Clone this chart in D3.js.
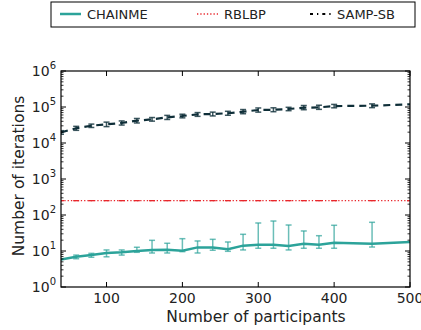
<!DOCTYPE html>
<html>
<head>
<meta charset="utf-8">
<script src="https://cdn.jsdelivr.net/npm/d3@7"></script>
<style>
  body { margin: 0; background: #fff; }
  svg text { font-family: "DejaVu Sans", sans-serif; fill: #222; }
</style>
</head>
<body>
<div id="chart"></div>
<script>
// participants on the x axis
const participants = [40, 60, 80, 100, 120, 140, 160, 180, 200, 220, 240, 260, 280, 300, 320, 340, 360, 380, 400, 450, 500];

// CHAINME mean and error range
const chainme = [5.8, 6.9, 7.7, 8.8, 9.2, 10, 10.7, 10.9, 10.2, 12.6, 12.6, 11.2, 14.1, 15, 15, 13.8, 16, 15, 17, 16, 17.8];
const chainmeLow = [5.8, 6.1, 6.7, 6.9, 7.7, 9.2, 8.8, 8.8, 9.6, 8.8, 10.5, 9.8, 10.7, 11.9, 11.9, 10.7, 11.9, 11.9, 11.9, 12.9, 17.8];
const chainmeHigh = [5.8, 7.7, 8.6, 10.7, 10.7, 12.7, 19.8, 16.4, 22, 19, 21.1, 17.8, 29.1, 60, 68, 52.7, 36, 26.6, 51.8, 62.7, 17.8];

// RBLBP is flat
const rblbp = participants.map(() => 250);

// SAMP-SB mean and error range
const sampsb = [19800, 25600, 30200, 33000, 36000, 41700, 45500, 51600, 56200, 62600, 64000, 67000, 74000, 82600, 84000, 88000, 95500, 97700, 106000, 108600, 119000];
const sampsbLow = [17500, 22500, 27000, 28500, 31500, 36000, 40500, 45000, 50000, 55000, 56500, 59000, 65000, 72000, 74000, 79000, 84000, 86000, 95000, 96000, 119000];
const sampsbHigh = [22000, 29000, 33500, 38000, 41000, 48000, 51000, 58500, 63000, 70000, 72000, 76000, 85000, 94000, 95000, 98000, 110000, 112000, 118000, 122000, 119000];

const xTicks = [100, 200, 300, 400, 500];
const yExponents = [0, 1, 2, 3, 4, 5, 6];

const W = 421, H = 330;
const margin = { top: 71, right: 11, bottom: 43, left: 61 };
const width = W - margin.left - margin.right;
const height = H - margin.top - margin.bottom;

const teal = "#2ca39a";
const dark = "#0e2e38";
const red = "#e8262b";

const svg = d3.select("#chart").append("svg").attr("width", W).attr("height", H);
const g = svg.append("g").attr("transform", `translate(${margin.left},${margin.top})`);

const x = d3.scaleLinear().domain([40, 500]).range([0, width]);
const y = d3.scaleLog().domain([1, 1e6]).range([height, 0]);

// clip for data
svg.append("defs").append("clipPath").attr("id", "clip")
  .append("rect").attr("width", width).attr("height", height);
const plot = g.append("g").attr("clip-path", "url(#clip)");

function errorBars(mean, low, high, color, opacity) {
  const grp = plot.append("g").attr("stroke", color).attr("stroke-opacity", opacity).attr("stroke-width", 1.5);
  participants.forEach((p, i) => {
    if (low[i] === high[i]) return;
    const cx = x(p);
    grp.append("line").attr("x1", cx).attr("x2", cx).attr("y1", y(low[i])).attr("y2", y(high[i]));
    grp.append("line").attr("x1", cx - 3).attr("x2", cx + 3).attr("y1", y(low[i])).attr("y2", y(low[i]));
    grp.append("line").attr("x1", cx - 3).attr("x2", cx + 3).attr("y1", y(high[i])).attr("y2", y(high[i]));
  });
}

const line = d3.line().x((d, i) => x(participants[i])).y(d => y(d));

// CHAINME
errorBars(chainme, chainmeLow, chainmeHigh, teal, 0.7);
plot.append("path").attr("d", line(chainme)).attr("fill", "none")
  .attr("stroke", teal).attr("stroke-width", 2.5);

// RBLBP: dotted line plus flat caps
plot.append("path").attr("d", line(rblbp)).attr("fill", "none")
  .attr("stroke", red).attr("stroke-width", 1.3).attr("stroke-dasharray", "1.3,2");
plot.append("g").selectAll("line").data(participants).join("line")
  .attr("x1", d => x(d) - 3).attr("x2", d => x(d) + 3)
  .attr("y1", y(250)).attr("y2", y(250))
  .attr("stroke", red).attr("stroke-width", 1.3);

// SAMP-SB
errorBars(sampsb, sampsbLow, sampsbHigh, dark, 0.8);
plot.append("path").attr("d", line(sampsb)).attr("fill", "none")
  .attr("stroke", dark).attr("stroke-width", 2.2).attr("stroke-dasharray", "7,5");

// axes: ticks inward on all sides
const minorTicks = [];
for (let e = 0; e < 6; e++) for (let k = 2; k <= 9; k++) minorTicks.push(k * Math.pow(10, e));

const axes = g.append("g").attr("stroke", "#000");
const drawY = (x0, dir) => {
  yExponents.forEach(e => axes.append("line").attr("x1", x0).attr("x2", x0 + dir * 5)
    .attr("y1", y(Math.pow(10, e))).attr("y2", y(Math.pow(10, e))));
  minorTicks.forEach(v => axes.append("line").attr("x1", x0).attr("x2", x0 + dir * 2.5)
    .attr("y1", y(v)).attr("y2", y(v)).attr("stroke-width", 0.8));
};
drawY(0, 1);
drawY(width, -1);
xTicks.forEach(t => {
  axes.append("line").attr("x1", x(t)).attr("x2", x(t)).attr("y1", height).attr("y2", height - 5);
  axes.append("line").attr("x1", x(t)).attr("x2", x(t)).attr("y1", 0).attr("y2", 5);
});
g.append("rect").attr("width", width).attr("height", height)
  .attr("fill", "none").attr("stroke", "#000").attr("stroke-width", 1.2);

// tick labels
g.selectAll(".xt").data(xTicks).join("text")
  .attr("x", d => x(d)).attr("y", height + 16)
  .attr("text-anchor", "middle").attr("font-size", 14).text(d => d);

const yl = g.selectAll(".yt").data(yExponents).join("text")
  .attr("x", -5).attr("y", d => y(Math.pow(10, d)) + 5)
  .attr("text-anchor", "end").attr("font-size", 14);
yl.append("tspan").text("10");
yl.append("tspan").attr("dy", -7).attr("font-size", 10).text(d => d);

// axis titles
svg.append("text").attr("x", 256).attr("y", 322)
  .attr("text-anchor", "middle").attr("font-size", 15.5).text("Number of participants");
svg.append("text").attr("transform", `translate(24,176) rotate(-90)`)
  .attr("text-anchor", "middle").attr("font-size", 15.5).text("Number of iterations");

// legend
const legend = svg.append("g");
legend.append("rect").attr("x", 51).attr("y", 2).attr("width", 364).attr("height", 25)
  .attr("fill", "#fff").attr("stroke", "#000").attr("stroke-width", 1);
const legendItems = [
  { name: "CHAINME", color: teal, dash: null, w: 2.5, x: 60 },
  { name: "RBLBP", color: red, dash: "1.3,2", w: 1.3, x: 197 },
  { name: "SAMP-SB", color: "#000", dash: "3,4,1.3,4", w: 2, x: 310 }
];
legendItems.forEach(it => {
  legend.append("line").attr("x1", it.x).attr("x2", it.x + 21).attr("y1", 14).attr("y2", 14)
    .attr("stroke", it.color).attr("stroke-width", it.w).attr("stroke-dasharray", it.dash);
  legend.append("text").attr("x", it.x + 27).attr("y", 19).attr("font-size", 13).text(it.name);
});
</script>
</body>
</html>
